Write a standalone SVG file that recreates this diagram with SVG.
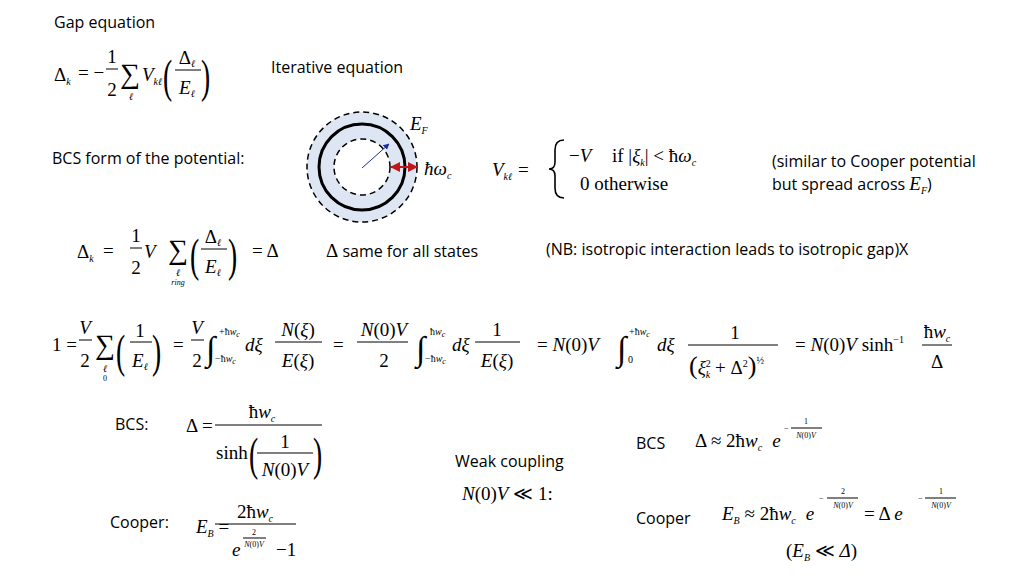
<svg xmlns="http://www.w3.org/2000/svg" width="1024" height="576" viewBox="0 0 1024 576">
<style>
.s{font-family:"Open Sans","Liberation Sans",sans-serif;font-size:16px;fill:#000}
.r{font-family:"Liberation Serif",serif;font-size:19px;fill:#000}
.i{font-family:"Liberation Serif",serif;font-size:19px;font-style:italic;fill:#000}
.up{font-style:normal}
.it{font-style:italic}
.sm{font-size:10px}
.xs{font-size:8px}
.big{font-size:28px}
.int{font-family:"Liberation Serif",serif;font-size:34px;fill:#000}
.par{font-family:"Liberation Serif",serif;font-size:46px;fill:#000}
.c{text-anchor:middle}
.fl{stroke:#000;stroke-width:1}
</style>
<defs>
<marker id="bh" viewBox="0 0 10 10" refX="9" refY="5" markerWidth="6" markerHeight="6" orient="auto"><path d="M0,0L10,5L0,10z" fill="#1a2ea0"/></marker>
<marker id="rh" viewBox="0 0 10 10" refX="9" refY="5" markerWidth="5" markerHeight="5" orient="auto-start-reverse"><path d="M0,0L10,5L0,10z" fill="#c0161c"/></marker>
</defs>

<text class="s" x="54" y="28">Gap equation</text>
<g id="eq1">
<text class="r" x="54" y="81">Δ<tspan class="it sm" dy="4">k</tspan></text>
<text class="r" x="78" y="79">= −</text>
<text class="r c" x="112" y="63">1</text><line class="fl" x1="106" y1="69" x2="118" y2="69"/><text class="r c" x="112" y="96">2</text>
<text class="r big" x="120" y="83">∑</text><text class="i sm c" x="131" y="100">ℓ</text>
<text class="i" x="142" y="81">V<tspan class="sm" dy="4">kℓ</tspan></text>
<text class="par" x="163" y="92" transform="translate(163 0) scale(0.6 1) translate(-163 0)">(</text>
<text class="r c" x="187" y="64">Δ<tspan class="it sm" dy="3">ℓ</tspan></text><line class="fl" x1="175" y1="70" x2="201" y2="70"/><text class="i c" x="187" y="94">E<tspan class="sm" dy="3">ℓ</tspan></text>
<text class="par" x="201" y="92" transform="translate(201 0) scale(0.6 1) translate(-201 0)">)</text>
</g>
<text class="s" x="271" y="73">Iterative equation</text>

<text class="s" x="52" y="164">BCS form of the potential:</text>
<g id="shell">
<circle cx="362" cy="167" r="55" fill="#dde6f2" stroke="#000" stroke-width="1.5" stroke-dasharray="6 4"/>
<circle cx="362" cy="167" r="43" fill="none" stroke="#000" stroke-width="3"/>
<circle cx="362" cy="167" r="28" fill="#fff" stroke="#000" stroke-width="1.5" stroke-dasharray="6 4"/>
<line x1="362" y1="168" x2="389" y2="144" stroke="#1a2ea0" stroke-width="1" marker-end="url(#bh)"/>
<line x1="391" y1="167" x2="417" y2="167" stroke="#c0161c" stroke-width="2" marker-start="url(#rh)" marker-end="url(#rh)"/>
<text class="i" x="410" y="130">E<tspan class="sm" dy="4">F</tspan></text>
<text class="i" x="424" y="175">ħω<tspan class="sm" dy="4">c</tspan></text>
</g>
<g id="vkl">
<text class="i" x="492" y="176">V<tspan class="sm" dy="4">kℓ</tspan></text><text class="r" x="518" y="176">=</text>
<path d="M564,140 Q555,140 555,150 L555,162 Q555,169 549,169 Q555,169 555,176 L555,188 Q555,198 564,198" fill="none" stroke="#000" stroke-width="1.6"/>
<text class="r" x="569" y="162">−<tspan class="it">V</tspan></text>
<text class="r" x="612" y="162">if |<tspan class="it">ξ<tspan class="sm" dy="4">k</tspan></tspan><tspan dy="-4">| &lt; ħ</tspan><tspan class="it">ω<tspan class="sm" dy="4">c</tspan></tspan></text>
<text class="r" x="580" y="190">0   otherwise</text>
</g>
<text class="s" x="772" y="167">(similar to Cooper potential</text>
<text class="s" x="772" y="190">but spread across <tspan class="i">E<tspan class="sm" dy="4">F</tspan></tspan><tspan dy="-4">)</tspan></text>

<g id="eq2">
<text class="r" x="77" y="258">Δ<tspan class="it sm" dy="4">k</tspan></text>
<text class="r" x="103" y="257">=</text>
<text class="r c" x="136" y="242">1</text><line class="fl" x1="130" y1="248" x2="142" y2="248"/><text class="r c" x="136" y="274">2</text>
<text class="i" x="144" y="258">V</text>
<text class="r big" x="168" y="259">∑</text><text class="i sm c" x="178" y="276">ℓ</text><text class="i xs c" x="178" y="285">ring</text>
<text class="par" x="190" y="271" transform="translate(190 0) scale(0.6 1) translate(-190 0)">(</text>
<text class="r c" x="213" y="243">Δ<tspan class="it sm" dy="3">ℓ</tspan></text><line class="fl" x1="201" y1="249" x2="227" y2="249"/><text class="i c" x="213" y="273">E<tspan class="sm" dy="3">ℓ</tspan></text>
<text class="par" x="228" y="271" transform="translate(228 0) scale(0.6 1) translate(-228 0)">)</text>
<text class="r" x="252" y="257">=   Δ</text>
</g>
<text class="s" x="326" y="257"><tspan class="r">Δ</tspan> same for all states</text>
<text class="s" x="546" y="255">(NB:  isotropic interaction leads to isotropic gap)X</text>

<g id="eq3">
<text class="r" x="52" y="351">1 =</text>
<text class="i c" x="85" y="334">V</text><line class="fl" x1="79" y1="340" x2="92" y2="340"/><text class="r c" x="85" y="367">2</text>
<text class="r big" x="95" y="354">∑</text><text class="i sm c" x="105" y="372">ℓ</text><text class="r xs c" x="105" y="381">0</text>
<text class="par" x="116" y="367" transform="translate(116 0) scale(0.6 1) translate(-116 0)">(</text>
<text class="r c" x="140" y="337">1</text><line class="fl" x1="130" y1="342" x2="152" y2="342"/><text class="i c" x="140" y="367">E<tspan class="sm" dy="3">ℓ</tspan></text>
<text class="par" x="152" y="367" transform="translate(152 0) scale(0.6 1) translate(-152 0)">)</text>
<text class="r" x="173" y="351">=</text>
<text class="i c" x="197" y="334">V</text><line class="fl" x1="191" y1="340" x2="204" y2="340"/><text class="r c" x="197" y="367">2</text>
<text class="int" x="206" y="360">∫</text><text class="r sm" x="219" y="335">+ħ<tspan class="it">w<tspan class="xs" dy="2">c</tspan></tspan></text><text class="r sm" x="215" y="362">−ħ<tspan class="it">w<tspan class="xs" dy="2">c</tspan></tspan></text>
<text class="i" x="245" y="351">dξ</text>
<text class="i c" x="298" y="336">N<tspan class="up">(</tspan>ξ<tspan class="up">)</tspan></text><line class="fl" x1="275" y1="342" x2="322" y2="342"/><text class="i c" x="298" y="367">E<tspan class="up">(</tspan>ξ<tspan class="up">)</tspan></text>
<text class="r" x="333" y="351">=</text>
<text class="i c" x="384" y="336">N<tspan class="up">(0)</tspan>V</text><line class="fl" x1="357" y1="342" x2="408" y2="342"/><text class="r c" x="384" y="367">2</text>
<text class="int" x="416" y="360">∫</text><text class="r sm" x="430" y="335">ħ<tspan class="it">w<tspan class="xs" dy="2">c</tspan></tspan></text><text class="r sm" x="425" y="362">−ħ<tspan class="it">w<tspan class="xs" dy="2">c</tspan></tspan></text>
<text class="i" x="452" y="351">dξ</text>
<text class="r c" x="497" y="336">1</text><line class="fl" x1="475" y1="342" x2="520" y2="342"/><text class="i c" x="497" y="367">E<tspan class="up">(</tspan>ξ<tspan class="up">)</tspan></text>
<text class="r" x="537" y="351">= <tspan class="it">N</tspan>(0)<tspan class="it">V</tspan></text>
<text class="int" x="617" y="360">∫</text><text class="r sm" x="629" y="335">+ħ<tspan class="it">w<tspan class="xs" dy="2">c</tspan></tspan></text><text class="r sm" x="628" y="363">0</text>
<text class="i" x="657" y="351">dξ</text>
<text class="r c" x="735" y="339">1</text><line class="fl" x1="688" y1="345" x2="778" y2="345"/>
<text class="r" x="689" y="374"><tspan font-size="26">(</tspan><tspan class="it">ξ</tspan><tspan class="sm" dy="-7">2</tspan><tspan class="it sm" dx="-5" dy="11">k</tspan><tspan dy="-4"> + Δ</tspan><tspan class="sm" dy="-7">2</tspan><tspan font-size="26" dy="7">)</tspan><tspan class="sm" dy="-10">½</tspan></text>
<text class="r" x="795" y="351">= <tspan class="it">N</tspan>(0)<tspan class="it">V</tspan>  sinh<tspan class="sm" dy="-8">−1</tspan></text>
<text class="r c" x="937" y="338">ħ<tspan class="it">w<tspan class="sm" dy="4">c</tspan></tspan></text><line class="fl" x1="922" y1="345" x2="952" y2="345"/><text class="r c" x="937" y="368">Δ</text>
</g>

<text class="s" x="115" y="430">BCS:</text>
<g id="bcs1">
<text class="r" x="186" y="432">Δ =</text>
<text class="r c" x="262" y="418">ħ<tspan class="it">w<tspan class="sm" dy="4">c</tspan></tspan></text><line class="fl" x1="215" y1="425" x2="322" y2="425"/>
<text class="r" x="216" y="459">sinh</text>
<text class="par" x="249" y="470" transform="translate(249 0) scale(0.6 1) translate(-249 0)">(</text>
<text class="r c" x="285" y="448">1</text><line class="fl" x1="257" y1="453" x2="313" y2="453"/><text class="i c" x="285" y="476">N<tspan class="up">(0)</tspan>V</text>
<text class="par" x="313" y="470" transform="translate(313 0) scale(0.6 1) translate(-313 0)">)</text>
</g>
<text class="s" x="110" y="528">Cooper:</text>
<g id="coop1">
<text class="i" x="196" y="533">E<tspan class="sm" dy="4">B</tspan><tspan class="up" dy="-4"> =</tspan></text>
<text class="r c" x="255" y="518">2ħ<tspan class="it">w<tspan class="sm" dy="4">c</tspan></tspan></text><line class="fl" x1="215" y1="524" x2="296" y2="524"/>
<text class="i" x="232" y="556">e</text>
<text class="r xs c" x="254" y="535">2</text><line class="fl" x1="243" y1="538" x2="266" y2="538" stroke-width="0.6"/><text class="i xs c" x="254" y="547">N<tspan class="up">(0)</tspan>V</text>
<text class="r" x="276" y="556">−1</text>
</g>

<text class="s" x="455" y="467">Weak coupling</text>
<text class="i" x="462" y="500">N<tspan class="up">(0)</tspan>V<tspan class="up"> ≪  1:</tspan></text>

<text class="s" x="636" y="449">BCS</text>
<g id="bcs2">
<text class="r" x="695" y="447">Δ ≈ 2ħ<tspan class="it">w<tspan class="sm" dy="4">c</tspan></tspan><tspan class="it" dx="10" dy="-4">e</tspan></text>
<text class="r xs" x="784" y="431">−</text>
<text class="r xs c" x="806" y="424">1</text><line class="fl" x1="791" y1="428" x2="822" y2="428" stroke-width="0.6"/><text class="i xs c" x="806" y="438">N<tspan class="up">(0)</tspan>V</text>
</g>
<text class="s" x="636" y="524">Cooper</text>
<g id="coop2">
<text class="i" x="722" y="520">E<tspan class="sm" dy="4">B</tspan><tspan class="up" dy="-4"> ≈ 2ħ</tspan>w<tspan class="sm" dy="4">c</tspan><tspan dx="10" dy="-4">e</tspan></text>
<text class="r xs" x="819" y="501">−</text>
<text class="r xs c" x="843" y="494">2</text><line class="fl" x1="827" y1="498" x2="858" y2="498" stroke-width="0.6"/><text class="i xs c" x="843" y="508">N<tspan class="up">(0)</tspan>V</text>
<text class="r" x="864" y="520">=   Δ <tspan class="it">e</tspan></text>
<text class="r xs" x="918" y="501">−</text>
<text class="r xs c" x="941" y="494">1</text><line class="fl" x1="925" y1="498" x2="956" y2="498" stroke-width="0.6"/><text class="i xs c" x="941" y="508">N<tspan class="up">(0)</tspan>V</text>
<text class="r" x="786" y="557">(<tspan class="it">E<tspan class="sm" dy="4">B</tspan></tspan><tspan dy="-4"> ≪ </tspan><tspan class="it">Δ</tspan>)</text>
</g>
</svg>
